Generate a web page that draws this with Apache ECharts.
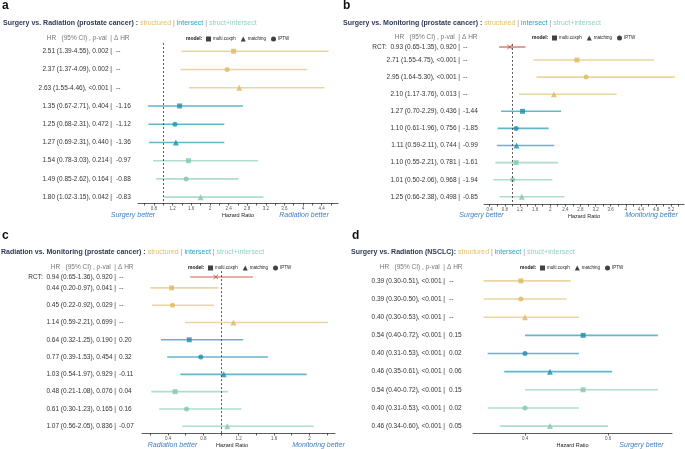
<!DOCTYPE html>
<html><head><meta charset="utf-8">
<script src="https://cdn.jsdelivr.net/npm/echarts@6/dist/echarts.min.js"></script>
<style>html,body{margin:0;padding:0;background:#fff}#c{width:685px;height:449px}</style>
</head><body><div id="c"></div>
<script>
// ---------------- DATA ----------------
const models  = ['multi.coxph','IPTW','matching','multi.coxph','IPTW','matching','multi.coxph','IPTW','matching'];
const sources = ['structured','structured','structured','intersect','intersect','intersect','struct+intersect','struct+intersect','struct+intersect'];

// a: Surgery vs. Radiation (prostate cancer)
const aHR  = [2.51, 2.37, 2.63, 1.35, 1.25, 1.27, 1.54, 1.49, 1.80];
const aLo  = [1.39, 1.37, 1.55, 0.67, 0.68, 0.69, 0.78, 0.85, 1.02];
const aHi  = [4.55, 4.09, 4.46, 2.71, 2.31, 2.31, 3.03, 2.62, 3.15];
const aP   = ['0.002','0.002','<0.001','0.404','0.472','0.440','0.214','0.164','0.042'];
const aDHR = ['--','--','--','-1.16','-1.12','-1.36','-0.97','-0.88','-0.83'];
const aTicks = [0.8,1.2,1.6,2,2.4,2.8,3.2,3.6,4,4.4];

// b: Surgery vs. Monitoring (prostate cancer)
const bRCT  = [0.93, 0.65, 1.35];
const bRCTp = '0.920';
const bHR  = [2.71, 2.95, 2.10, 1.27, 1.10, 1.11, 1.10, 1.01, 1.25];
const bLo  = [1.55, 1.64, 1.17, 0.70, 0.61, 0.59, 0.55, 0.50, 0.66];
const bHi  = [4.75, 5.30, 3.76, 2.29, 1.96, 2.11, 2.21, 2.06, 2.38];
const bP   = ['<0.001','<0.001','0.013','0.436','0.756','0.744','0.781','0.968','0.498'];
const bDHR = ['--','--','--','-1.44','-1.85','-0.99','-1.61','-1.94','-0.85'];
const bTicks = [0.4,0.8,1.2,1.6,2,2.4,2.8,3.2,3.6,4,4.4,4.8,5.2];

// c: Radiation vs. Monitoring (prostate cancer)
const cRCT  = [0.94, 0.65, 1.36];
const cRCTp = '0.920';
const cHR  = [0.44, 0.45, 1.14, 0.64, 0.77, 1.03, 0.48, 0.61, 1.07];
const cLo  = [0.20, 0.22, 0.59, 0.32, 0.39, 0.54, 0.21, 0.30, 0.56];
const cHi  = [0.97, 0.92, 2.21, 1.25, 1.53, 1.97, 1.08, 1.23, 2.05];
const cP   = ['0.041','0.029','0.699','0.190','0.454','0.929','0.076','0.165','0.836'];
const cDHR = ['--','--','--','0.20','0.32','-0.11','0.04','0.16','-0.07'];
const cTicks = [0.4,0.8,1.2,1.6,2];

// d: Surgery vs. Radiation (NSCLC)
const dHR  = [0.39, 0.39, 0.40, 0.54, 0.40, 0.46, 0.54, 0.40, 0.46];
const dLo  = [0.30, 0.30, 0.30, 0.40, 0.31, 0.35, 0.40, 0.31, 0.34];
const dHi  = [0.51, 0.50, 0.53, 0.72, 0.53, 0.61, 0.72, 0.53, 0.60];
const dP   = ['<0.001','<0.001','<0.001','<0.001','<0.001','<0.001','<0.001','<0.001','<0.001'];
const dDHR = ['--','--','--','0.15','0.02','0.06','0.15','0.02','0.05'];
const dTicks = [0.4,0.6];

// ---------------- STYLE / LAYOUT ----------------
const FONT = 'Liberation Sans, Arial, sans-serif';
const pal = {
  'structured':       {m:'#DDB95F', l:'#EAD6A2'},
  'intersect':        {m:'#1E8FAA', l:'#62B7C9'},
  'struct+intersect': {m:'#82C7B3', l:'#B0DCD0'},
  'RCT':              {m:'#B7372F', l:'#C8604F'}
};
const srcKeys = ['structured','intersect','struct+intersect','RCT'];
const symbols = {'multi.coxph':'rect','matching':'triangle','IPTW':'circle'};
const symSize = {'multi.coxph':5,'matching':6,'IPTW':5};
const xMark = 'path://M1,0L5,4L9,0L10,1L6,5L10,9L9,10L5,6L1,10L0,9L4,5L0,1Z';

const panels = [
  {letter:'a', title:'Surgery vs. Radiation (prostate cancer) : ', hr:aHR, lo:aLo, hi:aHi, p:aP, dhr:aDHR, rct:null, ticks:aTicks,
   grid:{left:138, right:347, top:33, bottom:246}, xr:[0.457,4.75], ymax:9.32, rctPos:null, bar:112, dx:116, dash0:0.55,
   headY:38, leg:[186,39], tit:[3,23], let:[2,6], namePad:0,
   better:[['Surgery better',133,215],['Radiation better',304,215]]},
  {letter:'b', title:'Surgery vs. Monitoring (prostate cancer) : ', hr:bHR, lo:bLo, hi:bHi, p:bP, dhr:bDHR, rct:bRCT, rctP:bRCTp, ticks:bTicks,
   grid:{left:484, right:1, top:42.9, bottom:245}, xr:[0.251,5.54], ymax:9.42, rctPos:0.24, bar:460, dx:463, dash0:0.06,
   headY:37, leg:[532,38], tit:[343,23], let:[343,6], namePad:0,
   better:[['Surgery better',481.5,215],['Monitoring better',651.5,215]]},
  {letter:'c', title:'Radiation vs. Monitoring (prostate cancer) : ', hr:cHR, lo:cLo, hi:cHi, p:cP, dhr:cDHR, rct:cRCT, rctP:cRCTp, ticks:cTicks,
   grid:{left:142, right:350, top:270.6, bottom:15}, xr:[0.105,2.29], ymax:9.39, rctPos:0.37, bar:116, dx:119, dash0:0.03,
   headY:267, leg:[188,268], tit:[1,252], let:[2,236], namePad:13,
   better:[['Radiation better',172.5,445],['Monitoring better',318.5,445]]},
  {letter:'d', title:'Surgery vs. Radiation (NSCLC): ', hr:dHR, lo:dLo, hi:dHi, p:dP, dhr:dDHR, rct:null, ticks:dTicks,
   grid:{left:473, right:13, top:262.75, bottom:15}, xr:[0.2747,0.754], ymax:9.38, rctPos:null, bar:445, dx:449, dash0:null,
   headY:267, leg:[520,268], tit:[351,252], let:[352,236], namePad:0,
   better:[['Surgery better',641.5,445]]}
];

const option = {animation:false, backgroundColor:'#fff', grid:[], xAxis:[], yAxis:[], series:[], legend:[], graphic:[]};
const f2 = v => v.toFixed(2);
const near = (arr, v) => arr.findIndex(t => Math.abs(t - v) < 1e-6);

panels.forEach((P, k) => {
  option.grid.push(Object.assign({containLabel:false}, P.grid));
  const tv = [];
  for (let i = Math.ceil(P.xr[0] / 0.2 - 1e-9); i * 0.2 <= P.xr[1] + 1e-9; i++) tv.push(Math.round(i * 2) / 10);
  option.xAxis.push({
    type:'value', gridIndex:k, position:'bottom', offset:0, min:P.xr[0], max:P.xr[1],
    name:'Hazard Ratio', nameLocation:'middle', nameGap:9,
    nameTextStyle:{fontSize:5.5, color:'#222', fontFamily:FONT, padding:[0,P.namePad,0,0]},
    axisLine:{show:true, onZero:false, lineStyle:{color:'#333', width:0.8}},
    axisTick:{show:true, customValues:tv, length:2.5, lineStyle:{color:'#333', width:0.8}},
    axisLabel:{show:true, customValues:P.ticks, formatter:v => String(Math.round(v*100)/100), fontSize:4.5, color:'#555', margin:3, fontFamily:FONT},
    splitLine:{show:false}
  });
  const rowPos = P.hr.map((_, i) => i + 1);
  const pos = P.rct ? [P.rctPos].concat(rowPos) : rowPos.slice();
  const leftTxt = P.hr.map((h, i) => `${f2(h)} (${f2(P.lo[i])}-${f2(P.hi[i])}), ${P.p[i]} |`);
  const rightTxt = P.dhr.slice();
  if (P.rct) { leftTxt.unshift(`RCT:  ${f2(P.rct[0])} (${f2(P.rct[1])}-${f2(P.rct[2])}), ${P.rctP} |`); rightTxt.unshift('--'); }
  const yBase = {type:'value', gridIndex:k, position:'left', offset:0, inverse:true, min:0, max:P.ymax,
    axisLine:{show:false, onZero:false}, axisTick:{show:false}, splitLine:{show:false}};
  const gl = P.grid.left;
  option.yAxis.push(Object.assign({}, yBase, {axisLabel:{customValues:pos, formatter:v => { const j = near(pos, v); return j < 0 ? '' : leftTxt[j]; },
    align:'right', margin:gl - P.bar, fontSize:6.5, color:'#333', fontFamily:FONT}}));
  option.yAxis.push(Object.assign({}, yBase, {axisLabel:{customValues:pos, formatter:v => { const j = near(pos, v); return j < 0 ? '' : rightTxt[j]; },
    align:'left', margin:gl - P.dx, fontSize:6.5, color:'#333', fontFamily:FONT}}));

  const ci = P.hr.map((h, i) => [P.lo[i], P.hi[i], rowPos[i], srcKeys.indexOf(sources[i])]);
  if (P.rct) ci.unshift([P.rct[1], P.rct[2], P.rctPos, 3]);
  option.series.push({
    type:'custom', xAxisIndex:k, yAxisIndex:2*k, silent:true, z:2, clip:false,
    encode:{x:[0,1], y:2}, data:ci,
    renderItem:(params, api) => {
      const p1 = api.coord([api.value(0), api.value(2)]);
      const p2 = api.coord([api.value(1), api.value(2)]);
      const s = srcKeys[api.value(3)];
      return {type:'line', shape:{x1:p1[0], y1:p1[1], x2:p2[0], y2:p2[1]},
        style:{stroke:pal[s].l, lineWidth: s === 'RCT' ? 1.2 : 1.6}};
    }
  });
  ['multi.coxph','matching','IPTW'].forEach((m, mi) => {
    const data = [];
    P.hr.forEach((h, i) => { if (models[i] === m) data.push({value:[h, rowPos[i]], itemStyle:{color:pal[sources[i]].m}}); });
    const s = {type:'scatter', name:m, xAxisIndex:k, yAxisIndex:2*k, symbol:symbols[m], symbolSize:symSize[m],
      itemStyle:{color:'#111'}, z:4, silent:true, data:data};
    if (mi === 0 && P.dash0 !== null) {
      s.markLine = {silent:true, symbol:['none','none'], label:{show:false}, animation:false,
        lineStyle:{type:[2,2], color:'#444', width:0.9},
        data:[[{coord:[1, P.dash0]}, {coord:[1, P.ymax]}]]};
    }
    option.series.push(s);
  });
  if (P.rct) {
    option.series.push({type:'scatter', name:'RCT', xAxisIndex:k, yAxisIndex:2*k, symbol:xMark, symbolSize:5, z:5, silent:true,
      itemStyle:{color:pal.RCT.m}, data:[[P.rct[0], P.rctPos]]});
  }
  option.graphic.push({type:'text', x:P.leg[0], y:P.leg[1], silent:true,
    style:{text:'model:', font:`bold 5px ${FONT}`, fill:'#111', verticalAlign:'middle', align:'left'}});
  option.legend.push({left:P.leg[0] + 20, top:P.leg[1] - 2.5, orient:'horizontal', itemWidth:5, itemHeight:5, itemGap:5, padding:0,
    selectedMode:false, textStyle:{fontSize:4.5, color:'#222', fontFamily:FONT, padding:[0,0,0,-3]},
    data:[{name:'multi.coxph', icon:'rect', itemStyle:{color:'#111'}},
          {name:'matching', icon:'triangle', itemStyle:{color:'#111'}},
          {name:'IPTW', icon:'circle', itemStyle:{color:'#111'}}]});
  option.graphic.push({type:'text', x:P.let[0], y:P.let[1], silent:true,
    style:{text:P.letter, font:`bold 12px ${FONT}`, fill:'#111', verticalAlign:'middle', align:'left'}});
  option.graphic.push({type:'text', x:P.tit[0], y:P.tit[1], silent:true,
    style:{text:`{t|${P.title}}{s|structured}{g| | }{i|intersect}{g| | }{si|struct+intersect}`,
      verticalAlign:'middle', align:'left', font:`7px ${FONT}`,
      rich:{t:{fontWeight:'bold', fontSize:7, fontFamily:FONT, fill:'#2E3A57'},
            s:{fontSize:7, fontFamily:FONT, fill:'#E2C06B'},
            g:{fontSize:7, fontFamily:FONT, fill:'#999'},
            i:{fontSize:7, fontFamily:FONT, fill:'#2AA0C2'},
            si:{fontSize:7, fontFamily:FONT, fill:'#93D0C2'}}}});
  option.graphic.push({type:'text', x:P.bar, y:P.headY, silent:true,
    style:{text:'HR   (95% CI) , p-val  |', font:`6.5px ${FONT}`, fill:'#777', verticalAlign:'middle', align:'right'}});
  option.graphic.push({type:'text', x:P.bar + 2, y:P.headY, silent:true,
    style:{text:'Δ HR', font:`6.5px ${FONT}`, fill:'#777', verticalAlign:'middle', align:'left'}});
  P.better.forEach(b => option.graphic.push({type:'text', x:b[1], y:b[2], silent:true,
    style:{text:b[0], font:`italic 7px ${FONT}`, fill:'#3F80C4', verticalAlign:'middle', align:'center'}}));
});

const chart = echarts.init(document.getElementById('c'), null, {renderer:'canvas'});
chart.setOption(option);
</script></body></html>
